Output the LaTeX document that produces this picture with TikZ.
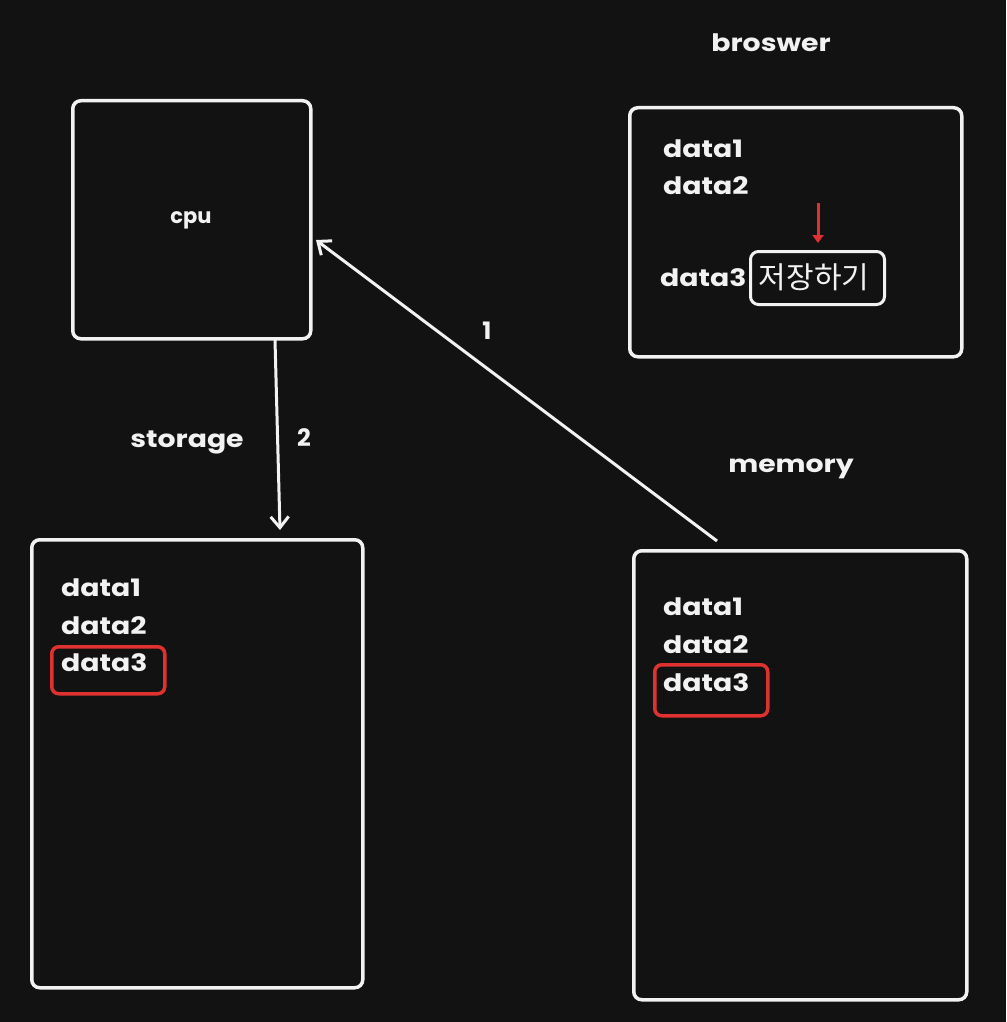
\documentclass[tikz,border=0pt]{standalone}
\usepackage{fontspec}
\setmainfont{Poppins}
\newfontfamily\kofont{Noto Sans CJK KR}
\usetikzlibrary{arrows.meta}
\definecolor{bg}{HTML}{121212}
\definecolor{fg}{HTML}{F2F2F2}
\definecolor{redc}{HTML}{E03131}
\newcommand{\widetxt}[1]{\scalebox{1.18}[1]{#1}}
\tikzset{
  box/.style={draw=fg, line width=3.5pt, rounded corners=8pt},
  redbox/.style={draw=redc, line width=3.5pt, rounded corners=7pt},
  lbl/.style={text=fg, font=\fontsize{24}{26}\selectfont\bfseries, inner sep=0pt},
  dat/.style={text=fg, font=\fontsize{24}{26}\selectfont\bfseries, inner sep=0pt, anchor=west},
  conn/.style={draw=fg, line width=3pt, -{Straight Barb[length=11pt,width=18pt,line width=3pt]}},
}
\begin{document}
\begin{tikzpicture}[x=1pt,y=-1pt]
\fill[bg] (0,0) rectangle (1006,1022);
\useasboundingbox (0,0) rectangle (1006,1022);
% boxes
\node[box, minimum width=238pt, minimum height=238pt, anchor=north west] (cpu) at (71,99) {};
\node[box, minimum width=332pt, minimum height=249pt, anchor=north west] (browser) at (628,106) {};
\node[box, minimum width=331pt, minimum height=448pt, anchor=north west] (storage) at (30,538) {};
\node[box, minimum width=333pt, minimum height=449pt, anchor=north west] (memory) at (632,549) {};
% titles
\node[lbl, font=\fontsize{21}{23}\selectfont\bfseries] (cputxt) at (191,220) {cpu};
\node[lbl] (brtitle) at (771,43) {\widetxt{broswer}};
\node[lbl] (sttitle) at (187,442) {\widetxt{storage}};
\node[lbl] (memtitle) at (791,469) {\widetxt{memory}};
% browser data
\node[dat] (b1) at (663,149) {\widetxt{data1}};
\node[dat] (b2) at (663,186) {\widetxt{data2}};
\node[dat] (b3) at (660,278) {\widetxt{data3}};
\node[box, line width=3pt, minimum width=134pt, minimum height=53pt, anchor=north west] (save) at (749,250) {};
\node[text=fg, font=\kofont\fontsize{30}{32}\selectfont, inner sep=0pt] (savetxt) at (814,277) {저장하기};
\coordinate (rtop) at (818,203);
\coordinate (rbot) at (818,243);
\draw[draw=redc, line width=3pt, -{Triangle[length=8pt,width=11pt]}] (rtop) -- (rbot);
% storage data
\node[dat] (s1) at (61,588) {\widetxt{data1}};
\node[dat] (s2) at (61,626) {\widetxt{data2}};
\node[dat] (s3) at (61,663) {\widetxt{data3}};
\node[redbox, minimum width=113pt, minimum height=47pt, anchor=north west] (s3r) at (50,645) {};
% memory data
\node[dat] (m1) at (663,607) {\widetxt{data1}};
\node[dat] (m2) at (663,645) {\widetxt{data2}};
\node[dat] (m3) at (663,683) {\widetxt{data3}};
\node[redbox, minimum width=113pt, minimum height=51pt, anchor=north west] (m3r) at (653,663) {};
% connectors
\coordinate (a1s) at (717,541);
\coordinate (a1e) at (316,240);
\draw[conn] (a1s) -- (a1e);
\node[lbl] (n1) at (487,331) {1};
\coordinate (a2s) at (275,340);
\coordinate (a2e) at (280,530);
\draw[conn] (a2s) -- (a2e);
\node[lbl] (n2) at (304,438) {2};
\end{tikzpicture}
\end{document}
